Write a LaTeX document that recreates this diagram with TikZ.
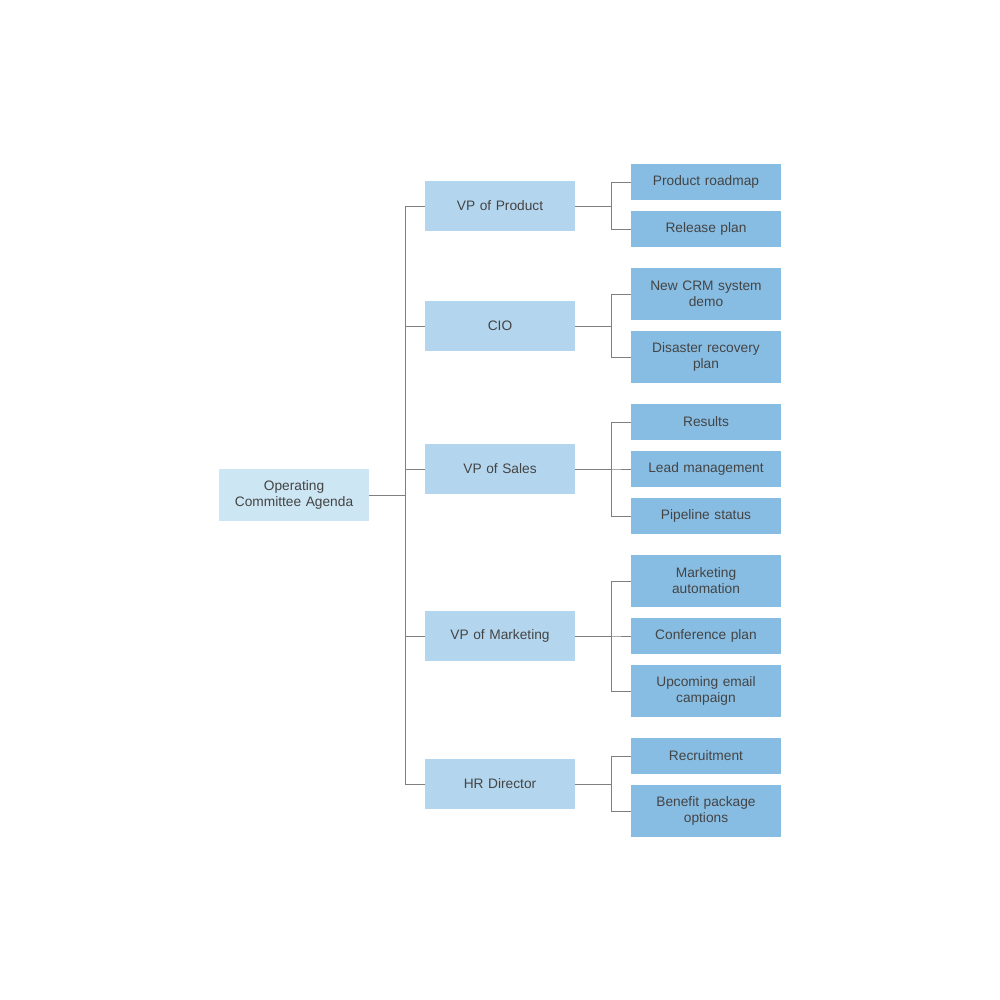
\documentclass[tikz,border=0pt]{standalone}
\usepackage{fontspec}
\setmainfont{Liberation Sans}
\definecolor{rootc}{HTML}{CDE6F4}
\definecolor{lonec}{HTML}{B3D6EE}
\definecolor{ltwoc}{HTML}{88BDE3}
\definecolor{txtc}{HTML}{444444}
\definecolor{linec}{HTML}{7F7F7F}
\begin{document}
\begin{tikzpicture}[x=0.75pt,y=-0.75pt,
  box/.style={inner sep=0pt,minimum width=112.5pt,text width=108pt,align=center,
    text=txtc,font=\fontsize{10.3}{12}\selectfont},
  rootbox/.style={box,fill=rootc,minimum height=39pt},
  onebox/.style={box,fill=lonec,minimum height=37.5pt},
  twobox/.style={box,fill=ltwoc,minimum height=27pt},
  twoboxtall/.style={box,fill=ltwoc,minimum height=39pt},
  conn/.style={draw=linec,line width=0.75pt}]
\useasboundingbox (0,0) rectangle (1000,1000);
\fill[white] (0,0) rectangle (1000,1000);
\node[rootbox] (root) at (294,495) {Operating\\Committee Agenda};
\node[onebox] (vpp) at (500,206) {VP of Product};
\node[onebox] (cio) at (500,326) {CIO};
\node[onebox] (vps) at (500,469) {VP of Sales};
\node[onebox] (vpm) at (500,636) {VP of Marketing};
\node[onebox] (hr) at (500,784) {HR Director};
\node[twobox] (pr) at (706,182) {Product roadmap};
\node[twobox] (rp) at (706,229) {Release plan};
\node[twoboxtall] (crm) at (706,294) {New CRM system\\demo};
\node[twoboxtall] (dr) at (706,357) {Disaster recovery\\plan};
\node[twobox] (res) at (706,422) {Results};
\node[twobox] (lm) at (706,469) {Lead management};
\node[twobox] (ps) at (706,516) {Pipeline status};
\node[twoboxtall] (ma) at (706,581) {Marketing\\automation};
\node[twobox] (cp) at (706,636) {Conference plan};
\node[twoboxtall] (ue) at (706,691) {Upcoming email\\campaign};
\node[twobox] (rec) at (706,756) {Recruitment};
\node[twoboxtall] (bp) at (706,811) {Benefit package\\options};
\coordinate (t) at (405,495);
\foreach \n in {vpp,cio,vps,vpm,hr} \draw[conn] (root.east) -- (t) |- (\n.west);
\foreach \p/\c in {vpp/pr,vpp/rp,cio/crm,cio/dr,vps/res,vps/lm,vps/ps,vpm/ma,vpm/cp,vpm/ue,hr/rec,hr/bp}
  \draw[conn] (\p.east) -- ++(36,0) |- (\c.west);
\end{tikzpicture}
\end{document}
